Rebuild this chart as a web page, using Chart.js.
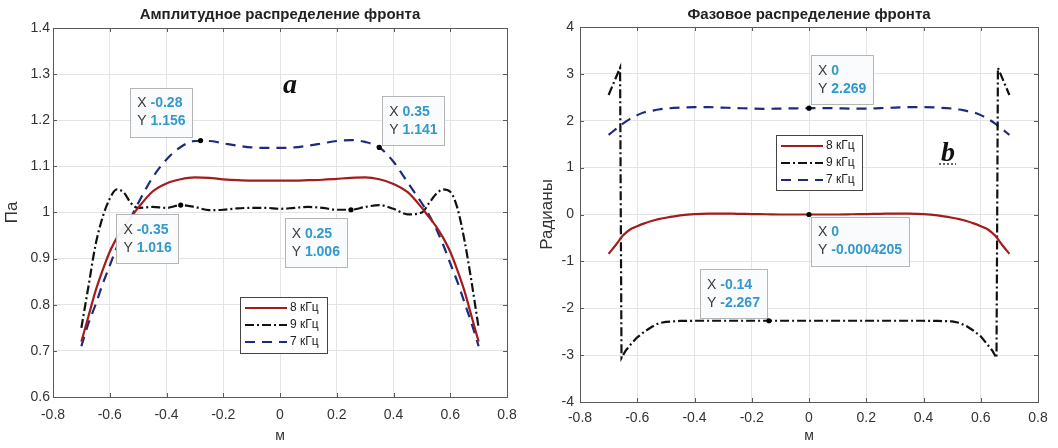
<!DOCTYPE html>
<html>
<head>
<meta charset="utf-8">
<script src="https://cdn.jsdelivr.net/npm/chart.js@4.4.0/dist/chart.umd.min.js"></script>
<style>
  html, body { margin: 0; padding: 0; background: #fff; }
  #wrap { display: flex; width: 1058px; height: 448px; }
  .cell { width: 529px; height: 448px; }
</style>
</head>
<body>
<div id="wrap">
  <div class="cell"><canvas id="amp" width="529" height="448"></canvas></div>
  <div class="cell"><canvas id="phase" width="529" height="448"></canvas></div>
</div>
<script>
Chart.defaults.font.family = '"Liberation Sans", Arial, sans-serif';
Chart.defaults.color = '#333';

// x positions (m) shared by most curves
const xGrid = [-0.7, -0.675, -0.65, -0.625, -0.6, -0.575, -0.55, -0.525, -0.5, -0.45, -0.4, -0.35, -0.3,
  -0.25, -0.2, -0.15, -0.1, -0.05, 0, 0.05, 0.1, 0.15, 0.2, 0.25, 0.3, 0.35, 0.4, 0.45, 0.5,
  0.525, 0.55, 0.575, 0.6, 0.625, 0.65, 0.675, 0.7];

// amplitude, Pa
const amp8 = [0.72, 0.775, 0.83, 0.875, 0.915, 0.945, 0.97, 0.99, 1.01, 1.045, 1.063, 1.072, 1.076,
  1.075, 1.072, 1.07, 1.069, 1.069, 1.069, 1.069, 1.07, 1.071, 1.073, 1.075, 1.076, 1.072, 1.062, 1.044, 1.01,
  0.99, 0.97, 0.945, 0.915, 0.875, 0.83, 0.775, 0.72];
const amp9 = [0.75, 0.84, 0.93, 0.99, 1.03, 1.05, 1.043, 1.02, 1.01, 1.012, 1.01, 1.016, 1.012,
  1.005, 1.006, 1.009, 1.01, 1.01, 1.008, 1.01, 1.012, 1.01, 1.006, 1.006, 1.012, 1.016, 1.008, 0.996, 1.0,
  1.02, 1.04, 1.05, 1.045, 1.01, 0.94, 0.85, 0.75];
const amp7 = [0.71, 0.76, 0.8, 0.845, 0.885, 0.925, 0.96, 0.99, 1.02, 1.075, 1.115, 1.142, 1.155,
  1.155, 1.15, 1.145, 1.141, 1.14, 1.14, 1.141, 1.145, 1.15, 1.155, 1.157, 1.153, 1.141, 1.11, 1.065, 1.02,
  0.995, 0.965, 0.93, 0.89, 0.85, 0.805, 0.76, 0.71];

// phase, rad
const phase8 = [-0.84, -0.65, -0.45, -0.32, -0.25, -0.19, -0.14, -0.1, -0.07, -0.02, 0.01, 0.02, 0.02,
  0.015, 0.01, 0.005, 0, 0, 0, 0, 0, 0.005, 0.01, 0.015, 0.02, 0.02, 0.01, -0.02, -0.07,
  -0.1, -0.14, -0.19, -0.25, -0.32, -0.45, -0.65, -0.84];
const phase7 = [1.7, 1.82, 1.94, 2.04, 2.12, 2.18, 2.21, 2.24, 2.26, 2.28, 2.29, 2.29, 2.28,
  2.27, 2.26, 2.255, 2.26, 2.265, 2.269, 2.27, 2.265, 2.26, 2.26, 2.27, 2.28, 2.29, 2.29, 2.28, 2.26,
  2.24, 2.21, 2.18, 2.12, 2.04, 1.94, 1.82, 1.7];
// 9 kHz phase wraps at +-pi, so it has its own x list
const phase9X = [-0.7, -0.68, -0.66, -0.655, -0.64, -0.62, -0.6, -0.575, -0.55, -0.525, -0.5, -0.45, -0.4,
  -0.3, -0.2, -0.14, -0.1, 0, 0.1, 0.2, 0.3, 0.4, 0.45, 0.5, 0.525, 0.55, 0.575, 0.6, 0.62, 0.64,
  0.655, 0.66, 0.68, 0.7];
const phase9 = [2.55, 2.84, 3.13, -3.06, -2.9, -2.75, -2.62, -2.5, -2.4, -2.32, -2.29, -2.27, -2.267,
  -2.267, -2.267, -2.267, -2.267, -2.267, -2.267, -2.267, -2.267, -2.267, -2.27, -2.28, -2.31, -2.38, -2.48, -2.6, -2.75, -2.9,
  -3.06, 3.13, 2.84, 2.55];

const legendLabels = ['8 кГц', '9 кГц', '7 кГц'];

// data tips [x, y]
const ampTips = [[-0.28, 1.156], [0.35, 1.141], [-0.35, 1.016], [0.25, 1.006]];
const phaseTips = [[0, 2.269], [0, -0.0004205], [-0.14, -2.267]];

const lineStyles = [
  { color: '#a31c1c', dash: [] },            // 8 kHz
  { color: '#111111', dash: [9, 3, 2, 3] },  // 9 kHz
  { color: '#1f2a7c', dash: [10, 7] },       // 7 kHz
];

const FONT = '"Liberation Sans", Arial, sans-serif';

function toPts(xs, ys) {
  return xs.map((x, i) => ({ x: x, y: ys[i] }));
}

function fmt(v) {
  return String(+v.toFixed(2));
}

function drawTip(ctx, px, py, tx, ty, place) {
  ctx.font = '14px ' + FONT;
  const wx = ctx.measureText('X ').width;
  const wy = ctx.measureText('Y ').width;
  ctx.font = 'bold 14px ' + FONT;
  const vx = String(tx), vy = String(ty);
  const w = Math.max(wx + ctx.measureText(vx).width, wy + ctx.measureText(vy).width) + 14;
  const h = 49;
  const left = place[0] === 'r' ? px + place[1] - w : px + place[1];
  const top = py + place[2];
  ctx.fillStyle = 'rgba(250,251,252,0.95)';
  ctx.fillRect(left, top, w, h);
  ctx.strokeStyle = '#b5b5b5';
  ctx.lineWidth = 1;
  ctx.strokeRect(Math.round(left) + 0.5, Math.round(top) + 0.5, Math.round(w), h);
  ctx.textBaseline = 'middle';
  ctx.textAlign = 'left';
  const rows = [['X ', vx, wx], ['Y ', vy, wy]];
  rows.forEach((r, i) => {
    const yy = top + 16 + i * 18;
    ctx.font = '14px ' + FONT;
    ctx.fillStyle = '#3a3a3a';
    ctx.fillText(r[0], left + 7, yy);
    ctx.font = 'bold 14px ' + FONT;
    ctx.fillStyle = '#3399cc';
    ctx.fillText(r[1], left + 7 + r[2], yy);
  });
  // marker
  ctx.fillStyle = '#000';
  ctx.beginPath();
  ctx.arc(px, py, 2.6, 0, Math.PI * 2);
  ctx.fill();
}

const decor = {
  id: 'decor',
  afterDraw(chart, args, o) {
    const ctx = chart.ctx;
    const a = chart.chartArea;
    const sx = chart.scales.x, sy = chart.scales.y;
    ctx.save();

    // axes box with inner ticks
    ctx.strokeStyle = '#5a5a5a';
    ctx.lineWidth = 1;
    ctx.strokeRect(Math.round(a.left) + 0.5, Math.round(a.top) + 0.5,
      Math.round(a.right - a.left), Math.round(a.bottom - a.top));
    ctx.beginPath();
    sx.ticks.forEach(t => {
      const p = Math.round(sx.getPixelForValue(t.value)) + 0.5;
      ctx.moveTo(p, a.bottom); ctx.lineTo(p, a.bottom - 4);
      ctx.moveTo(p, a.top); ctx.lineTo(p, a.top + 4);
    });
    sy.ticks.forEach(t => {
      const p = Math.round(sy.getPixelForValue(t.value)) + 0.5;
      ctx.moveTo(a.left, p); ctx.lineTo(a.left + 4, p);
      ctx.moveTo(a.right, p); ctx.lineTo(a.right - 4, p);
    });
    ctx.stroke();

    // title
    ctx.fillStyle = '#222';
    ctx.font = 'bold 15px ' + FONT;
    ctx.textAlign = 'center';
    ctx.textBaseline = 'middle';
    ctx.fillText(o.title, (a.left + a.right) / 2, 15);

    // panel letter
    ctx.font = 'italic bold 28px "Liberation Serif", serif';
    ctx.textBaseline = 'alphabetic';
    ctx.fillStyle = '#111';
    ctx.fillText(o.letter, o.letterPos[0], o.letterPos[1]);
    if (o.underline) {
      ctx.strokeStyle = '#333';
      ctx.setLineDash([2, 2]);
      ctx.lineWidth = 1.5;
      ctx.beginPath();
      ctx.moveTo(o.letterPos[0] - 9, o.letterPos[1] + 3);
      ctx.lineTo(o.letterPos[0] + 8, o.letterPos[1] + 3);
      ctx.stroke();
      ctx.setLineDash([]);
    }

    // legend
    const L = o.legend;
    ctx.fillStyle = '#fff';
    ctx.fillRect(L.x, L.y, L.w, L.h);
    ctx.strokeStyle = '#444';
    ctx.lineWidth = 1;
    ctx.strokeRect(L.x + 0.5, L.y + 0.5, L.w, L.h);
    ctx.font = '12px ' + FONT;
    ctx.textAlign = 'left';
    ctx.textBaseline = 'middle';
    legendLabels.forEach((lab, i) => {
      const yy = L.y + 11 + i * 17;
      ctx.strokeStyle = lineStyles[i].color;
      ctx.setLineDash(lineStyles[i].dash);
      ctx.lineWidth = 2.2;
      ctx.beginPath();
      ctx.moveTo(L.x + 5, yy);
      ctx.lineTo(L.x + 47, yy);
      ctx.stroke();
      ctx.setLineDash([]);
      ctx.fillStyle = '#222';
      ctx.fillText(lab, L.x + 50, yy);
    });

    // data tips
    o.tips.forEach((t, i) => {
      drawTip(ctx, sx.getPixelForValue(t[0]), sy.getPixelForValue(t[1]), t[0], t[1], o.tipPlace[i]);
    });
    ctx.restore();
  }
};

function makeChart(id, cfg) {
  const series = [cfg.s8, cfg.s9, cfg.s7];
  return new Chart(document.getElementById(id), {
    type: 'line',
    data: {
      datasets: series.map((pts, i) => ({
        label: legendLabels[i],
        data: pts,
        borderColor: lineStyles[i].color,
        borderDash: lineStyles[i].dash,
        borderWidth: 2.2,
        pointRadius: 0,
        fill: false,
        cubicInterpolationMode: i === 1 && cfg.sharp9 ? 'default' : 'monotone',
        tension: i === 1 && cfg.sharp9 ? 0 : 0.4
      }))
    },
    options: {
      responsive: false,
      animation: false,
      layout: { padding: { top: cfg.top, right: cfg.right, left: 0, bottom: 0 } },
      plugins: {
        legend: { display: false },
        tooltip: { enabled: false },
        decor: cfg
      },
      scales: {
        x: {
          type: 'linear',
          min: -0.8, max: 0.8,
          ticks: { stepSize: 0.2, padding: cfg.xPad, font: { size: 14 }, color: '#333', callback: fmt },
          grid: { color: '#e4e4e4', drawTicks: false },
          border: { color: '#5a5a5a' },
          title: { display: true, text: 'м', font: { size: 14 }, color: '#333', padding: { top: 0, bottom: 3 } },
          afterFit: s => { s.height = cfg.xh; }
        },
        y: {
          min: cfg.yMin, max: cfg.yMax,
          ticks: { stepSize: cfg.yStep, padding: cfg.yPad, font: { size: 14 }, color: '#333', callback: fmt },
          grid: { color: '#e4e4e4', drawTicks: false },
          border: { color: '#5a5a5a' },
          title: { display: true, text: cfg.yTitle, font: { size: 17 }, color: '#333', padding: { top: cfg.yTitlePad, bottom: 0 } },
          afterFit: s => { s.width = cfg.yw; }
        }
      }
    },
    plugins: [decor]
  });
}

makeChart('amp', {
  s8: toPts(xGrid, amp8), s9: toPts(xGrid, amp9), s7: toPts(xGrid, amp7),
  sharp9: false,
  yMin: 0.6, yMax: 1.4, yStep: 0.1,
  yTitle: 'Па', title: 'Амплитудное распределение фронта',
  top: 28, right: 22, xh: 51, yw: 53, xPad: 10, yPad: 3, yTitlePad: 2,
  letter: 'a', letterPos: [290, 93], underline: false,
  legend: { x: 240, y: 297, w: 87, h: 56 },
  tips: ampTips,
  tipPlace: [['r', -8, -53], ['l', 3, -51], ['r', -2, 9], ['r', -4, 8]]
});

makeChart('phase', {
  s8: toPts(xGrid, phase8), s9: toPts(phase9X, phase9), s7: toPts(xGrid, phase7),
  sharp9: true,
  yMin: -4, yMax: 4, yStep: 1,
  yTitle: 'Радианы', title: 'Фазовое распределение фронта',
  top: 27, right: 20, xh: 46, yw: 51, xPad: 8, yPad: 6, yTitlePad: 8,
  letter: 'b', letterPos: [419, 161], underline: true,
  legend: { x: 247, y: 135, w: 86, h: 55 },
  tips: phaseTips,
  tipPlace: [['l', 2, -53], ['l', 2, 2], ['r', -2, -52]]
});
</script>
</body>
</html>
